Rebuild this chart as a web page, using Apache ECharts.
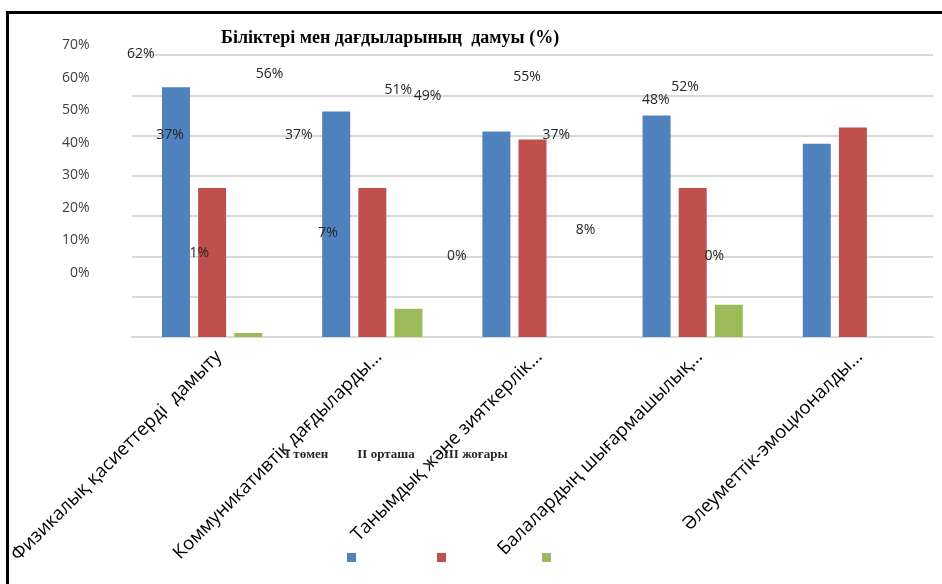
<!DOCTYPE html>
<html>
<head>
<meta charset="utf-8">
<script src="https://cdn.jsdelivr.net/npm/echarts@6/dist/echarts.min.js"></script>
<style>
html,body{margin:0;padding:0;background:#fff;}
#chart{width:942px;height:584px;}
</style>
</head>
<body>
<div id="chart"></div>
<script>
const titleText = 'Біліктері мен дағдыларының  дамуы (%)';
const categories = ['Физикалық қасиеттерді  дамыту', 'Коммуникативтік дағдыларды...', 'Танымдық және зияткерлік...', 'Балалардың шығармашылық...', 'Әлеуметтік-эмоционалды...'];
const seriesNames = ['I төмен', 'II орташа', 'III жоғары'];
const lowValues = [62, 56, 51, 55, 48];
const midValues = [37, 37, 49, 37, 52];
const highValues = [1, 7, 0, 8, 0];
const colors = ['#4f81bd', '#c0504d', '#9bbb59'];
const yMax = 70;
const yStep = 10;

const allValues = [lowValues, midValues, highValues];
const chart = echarts.init(document.getElementById('chart'));

const mainSeries = allValues.map((vals, i) => ({
  name: seriesNames[i],
  type: 'bar',
  xAxisIndex: 0,
  yAxisIndex: 0,
  data: vals,
  barWidth: 28,
  barGap: '29%',
  itemStyle: { color: colors[i] },
  silent: true
}));

const labelSeries = allValues.map((vals, i) => ({
  name: 'lbl' + i,
  type: 'bar',
  xAxisIndex: 1,
  yAxisIndex: 1,
  data: vals,
  barWidth: 29.3,
  barGap: '0%',
  itemStyle: { color: 'rgba(0,0,0,0)' },
  silent: true,
  label: {
    show: true,
    position: 'top',
    distance: 10,
    formatter: '{c}%',
    fontFamily: 'Open Sans',
    fontSize: 14,
    color: '#262626'
  }
}));

const iconLeft = [342, 432, 537];

chart.setOption({
  animation: false,
  title: {
    text: titleText,
    left: 216,
    top: 24,
    textStyle: { fontFamily: 'Liberation Serif', fontWeight: 'bold', fontSize: 18, color: '#000' }
  },
  graphic: [{
    type: 'rect',
    shape: { x: 7.5, y: 12.5, width: 1200, height: 1200 },
    style: { fill: 'none', stroke: '#000', lineWidth: 3 },
    silent: true
  }],
  legend: [
    {
      data: seriesNames,
      left: 275,
      top: 443,
      itemWidth: 0,
      itemHeight: 0,
      itemGap: 24,
      icon: 'rect',
      textStyle: { fontFamily: 'Liberation Serif', fontWeight: 'bold', fontSize: 13, color: '#262626' },
      selectedMode: false
    }
  ].concat(seriesNames.map((n, i) => ({
    data: [n],
    left: iconLeft[i],
    top: 548,
    icon: 'rect',
    itemWidth: 9,
    itemHeight: 9,
    formatter: () => '',
    selectedMode: false
  }))),
  grid: [
    { left: 132, right: 9, top: 55, bottom: 247 },
    { left: 105.6, right: 192.6, top: 45, bottom: 311 }
  ],
  xAxis: [
    {
      type: 'category',
      gridIndex: 0,
      data: categories,
      axisLine: { show: true, lineStyle: { color: '#d9d9d9', width: 2 } },
      axisTick: { show: false },
      axisLabel: {
        rotate: 45,
        margin: 10,
        interval: 0,
        verticalAlign: 'top',
        fontFamily: 'Open Sans',
        fontSize: 18.5,
        color: '#000'
      }
    },
    {
      type: 'category',
      gridIndex: 1,
      data: categories,
      show: false
    }
  ],
  yAxis: [
    {
      type: 'value',
      gridIndex: 0,
      min: 0,
      max: yMax,
      interval: yStep,
      axisLabel: { show: false },
      axisLine: { show: false },
      axisTick: { show: false },
      splitLine: { lineStyle: { color: '#d9d9d9', width: 2 } }
    },
    {
      type: 'value',
      gridIndex: 1,
      min: 0,
      max: yMax,
      interval: yStep,
      axisLabel: {
        formatter: '{value}%',
        margin: 16,
        fontFamily: 'Open Sans',
        fontSize: 14,
        color: '#404040'
      },
      axisLine: { show: false },
      axisTick: { show: false },
      splitLine: { show: false }
    }
  ],
  series: mainSeries.concat(labelSeries)
});
</script>
</body>
</html>
